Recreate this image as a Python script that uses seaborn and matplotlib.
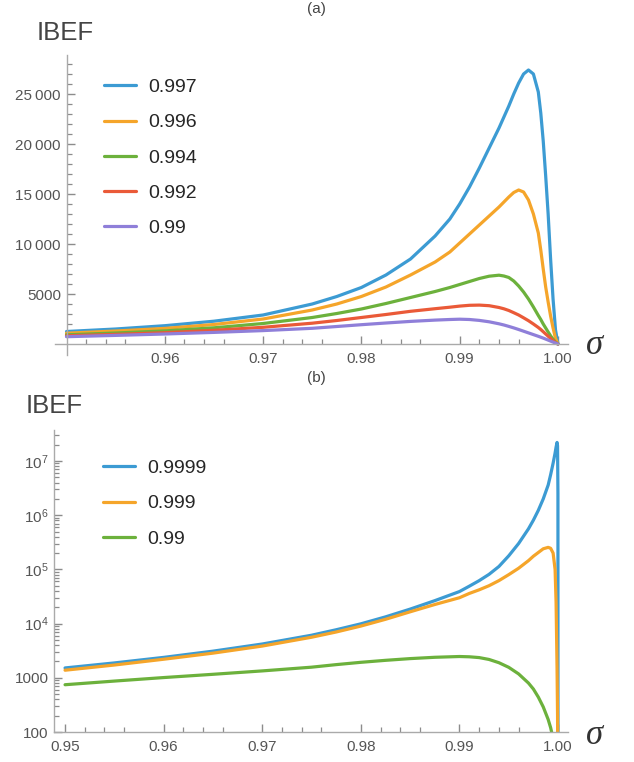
import numpy as np
import pandas as pd
import matplotlib
matplotlib.use("Agg")
import matplotlib.pyplot as plt
import seaborn as sns

# -------------------------
# Data
# -------------------------
# panel (a): linear IBEF vs sigma
sigma_a = [0.95, 0.955, 0.96, 0.965, 0.97, 0.975, 0.9775, 0.98, 0.9825, 0.985,
           0.9875, 0.989, 0.99, 0.991, 0.992, 0.993, 0.994, 0.9945, 0.995, 0.9955,
           0.996, 0.9965, 0.997, 0.9975, 0.998, 0.99825, 0.9985, 0.99875, 0.999,
           0.99925, 0.9995, 0.99975, 1.0]
ibef_a_0997 = [1250, 1500, 1830, 2280, 2900, 4000, 4750, 5650, 6900, 8500,
               10800, 12500, 14000, 15700, 17600, 19600, 21600, 22700, 23800, 25000,
               26100, 27000, 27400, 27000, 25200, 23100, 20300, 16800, 13000,
               8500, 4500, 1400, 0]
ibef_a_0996 = [1080, 1300, 1560, 1950, 2500, 3400, 4000, 4750, 5700, 6900,
               8200, 9200, 10100, 11000, 11900, 12800, 13700, 14200, 14700, 15150,
               15400, 15200, 14400, 13000, 11100, 9400, 7500, 5700, 4200,
               2800, 1600, 550, 0]
ibef_a_0994 = [920, 1100, 1310, 1620, 2050, 2650, 3050, 3500, 4050, 4650,
               5250, 5650, 5950, 6250, 6550, 6780, 6880, 6800, 6650, 6300,
               5800, 5200, 4500, 3700, 2850, 2450, 2000, 1600, 1200,
               820, 480, 180, 0]
ibef_a_0992 = [820, 960, 1130, 1370, 1670, 2080, 2350, 2650, 2950, 3270,
               3530, 3680, 3790, 3870, 3890, 3830, 3650, 3520, 3350, 3130,
               2900, 2620, 2330, 2000, 1650, 1450, 1230, 1000, 780,
               550, 330, 130, 0]
ibef_a_099 = [730, 860, 1000, 1160, 1340, 1570, 1750, 1930, 2100, 2260,
              2390, 2450, 2480, 2450, 2360, 2220, 2020, 1900, 1760, 1610,
              1450, 1280, 1110, 940, 770, 680, 590, 490, 390,
              290, 190, 90, 0]
labels_a = ["0.997", "0.996", "0.994", "0.992", "0.99"]

# panel (b): log IBEF vs sigma
sigma_b = [0.95, 0.955, 0.96, 0.965, 0.97, 0.975, 0.9775, 0.98, 0.9825, 0.985,
           0.9875, 0.99, 0.991, 0.992, 0.993, 0.994, 0.995, 0.996, 0.997, 0.9975,
           0.998, 0.9985, 0.999, 0.99925, 0.9995, 0.9997, 0.9998, 0.9999, 0.99995,
           0.99999, 1.0]
ibef_b_09999 = [1520, 1880, 2380, 3100, 4200, 6100, 7700, 9900, 13300, 18500,
                26500, 39000, 49000, 62000, 81000, 113000, 178000, 300000, 560000, 810000,
                1.23e6, 2.0e6, 3.6e6, 5.6e6, 9.1e6, 1.4e7, 1.8e7, 2.2e7, 1.9e7,
                2.5e6, 1e-2]
ibef_b_0999 = [1380, 1720, 2200, 2850, 3850, 5600, 7000, 9000, 12000, 16500,
               22500, 30000, 36000, 42000, 50000, 62000, 80000, 105000, 145000, 175000,
               205000, 240000, 255000, 245000, 200000, 100000, 25000, 1500, 200,
               10, 1e-2]
ibef_b_099 = [745, 870, 1010, 1160, 1340, 1570, 1750, 1930, 2100, 2260,
              2390, 2470, 2440, 2360, 2180, 1900, 1560, 1180, 800, 620,
              440, 290, 170, 120, 75, 40, 22, 7, 3,
              0.5, 1e-2]
labels_b = ["0.9999", "0.999", "0.99"]

colors = ["#3c9bd3", "#f5a52a", "#6cb13c", "#ea5a38", "#8f7fd9"]

df_a = pd.concat([
    pd.DataFrame({"sigma": sigma_a, "IBEF": v, "p": lab})
    for v, lab in zip([ibef_a_0997, ibef_a_0996, ibef_a_0994, ibef_a_0992, ibef_a_099], labels_a)
])
df_b = pd.concat([
    pd.DataFrame({"sigma": sigma_b, "IBEF": v, "p": lab})
    for v, lab in zip([ibef_b_09999, ibef_b_0999, ibef_b_099], labels_b)
])

# -------------------------
# Figure
# -------------------------
sns.set_style("white")
plt.rcParams["font.family"] = ["Liberation Sans", "DejaVu Sans"]
plt.rcParams["mathtext.fontset"] = "custom"
plt.rcParams["mathtext.rm"] = "Liberation Sans"

W, H = 634, 762
fig = plt.figure(figsize=(W / 100, H / 100), dpi=100)

def frac(l, t, r, b):
    return [l / W, 1 - b / H, (r - l) / W, (b - t) / H]

axis_col = "#aaaaaa"
tick_col = "#555555"

def style_axes(ax):
    for s in ["top", "right"]:
        ax.spines[s].set_visible(False)
    for s in ["left", "bottom"]:
        ax.spines[s].set_color(axis_col)
        ax.spines[s].set_linewidth(1.0)
    ax.tick_params(which="both", direction="in", bottom=True, left=True,
                   color="#8c8c8c", labelcolor=tick_col, labelsize=11)
    ax.tick_params(which="major", length=6, width=1.0)
    ax.tick_params(which="minor", length=3.5, width=0.9)
    ax.tick_params(axis="x", pad=6)
    ax.tick_params(axis="y", pad=4)
    ax.set_xlabel("")
    ax.set_ylabel("")

leg_kw = dict(loc="upper left", bbox_transform=fig.transFigure, frameon=False,
              fontsize=14, handlelength=1.65, handletextpad=0.62,
              labelspacing=0.905, borderpad=0, borderaxespad=0)

# ---- panel (a)
ax1 = fig.add_axes(frac(55, 55, 568, 355))
sns.lineplot(data=df_a, x="sigma", y="IBEF", hue="p", hue_order=labels_a,
             palette=colors, estimator=None, sort=False, lw=2.3, ax=ax1)
ax1.set_xlim(0.94883, 1.00102)
ax1.set_ylim(-1100, 28900)
ax1.spines["left"].set_position(("data", 0.95))
ax1.spines["bottom"].set_position(("data", 0))
ax1.set_xticks([0.96, 0.97, 0.98, 0.99, 1.00])
ax1.set_xticklabels(["0.96", "0.97", "0.98", "0.99", "1.00"])
ax1.set_xticks([round(0.952 + 0.002 * i, 3) for i in range(25) if (i + 1) % 5 != 4], minor=True)
ax1.set_yticks([5000, 10000, 15000, 20000, 25000])
ax1.set_yticklabels(["5000", "10\u2009000", "15\u2009000", "20\u2009000", "25\u2009000"])
ax1.set_yticks([k * 1000 for k in range(1, 29) if k % 5 != 0], minor=True)
style_axes(ax1)
ax1.legend(handles=ax1.get_lines()[:5], labels=labels_a,
           bbox_to_anchor=(104 / W, 1 - 78.5 / H), **leg_kw)

# ---- panel (b)
ax2 = fig.add_axes(frac(54, 430, 568, 732))
ax2.set_yscale("log")
sns.lineplot(data=df_b, x="sigma", y="IBEF", hue="p", hue_order=labels_b,
             palette=colors[:3], estimator=None, sort=False, lw=2.3, ax=ax2)
ax2.set_xlim(0.94888, 1.00101)
ax2.set_ylim(100, 3.73e7)
ax2.set_xticks([0.95, 0.96, 0.97, 0.98, 0.99, 1.00])
ax2.set_xticklabels(["0.95", "0.96", "0.97", "0.98", "0.99", "1.00"])
ax2.set_xticks([round(0.952 + 0.002 * i, 3) for i in range(25) if (i + 1) % 5 != 4], minor=True)
ax2.set_yticks([1e2, 1e3, 1e4, 1e5, 1e6, 1e7])
ax2.set_yticklabels(["100", "1000", r"$\mathregular{10^{4}}$", r"$\mathregular{10^{5}}$",
                     r"$\mathregular{10^{6}}$", r"$\mathregular{10^{7}}$"])
ax2.yaxis.set_minor_locator(matplotlib.ticker.LogLocator(base=10, subs=np.arange(2, 10)))
ax2.yaxis.set_minor_formatter(matplotlib.ticker.NullFormatter())
style_axes(ax2)
ax2.legend(handles=ax2.get_lines()[:3], labels=labels_b,
           bbox_to_anchor=(103 / W, 1 - 459.5 / H), **leg_kw)

# ---- labels
lab_col = "#444444"
fig.text(316 / W, 1 - 9 / H, "(a)", ha="center", va="center", fontsize=11, color=lab_col)
fig.text(316 / W, 1 - 378 / H, "(b)", ha="center", va="center", fontsize=11, color=lab_col)
fig.text(37 / W, 1 - 33 / H, "IBEF", ha="left", va="center", fontsize=18.5, color=lab_col)
fig.text(26 / W, 1 - 406 / H, "IBEF", ha="left", va="center", fontsize=18.5, color=lab_col)
for yc in [346, 736]:
    fig.text(595 / W, 1 - yc / H, "\u03c3", ha="center", va="center", fontsize=25,
             style="italic", family=["Liberation Serif", "DejaVu Serif"], color="#333333")

fig.savefig("out.png", dpi=100)
